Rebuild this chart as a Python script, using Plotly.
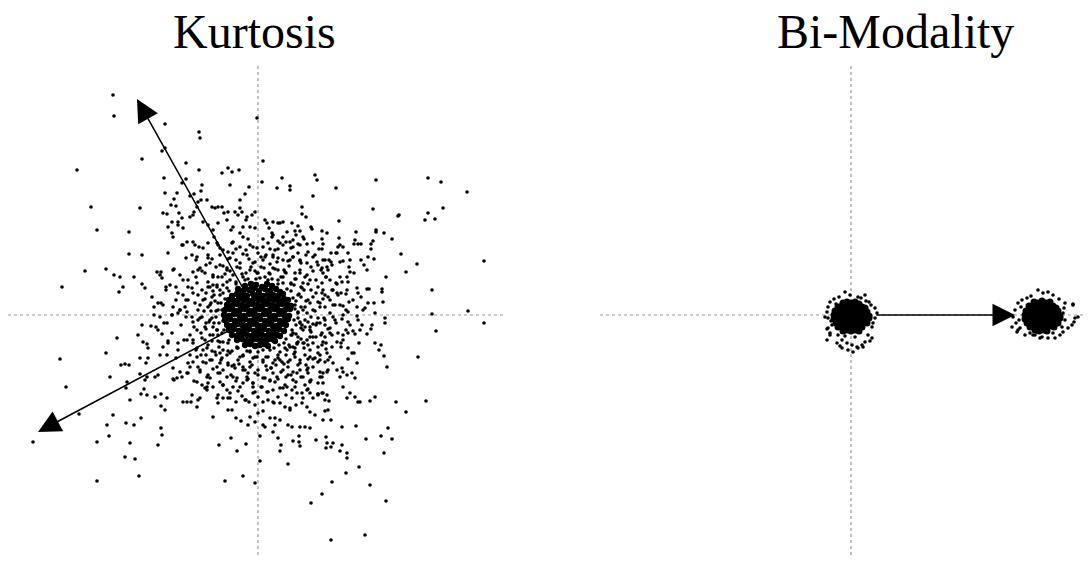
import plotly.graph_objects as go

# ---------------- data (units: offsets from each panel's origin) ----------------
panel_titles = ["Kurtosis", "Bi-Modality"]

# dense centre of the kurtosis cloud
kurt_core = [
    (-13,29),(-7,31),(-2,30),(4,28),(9,31),(14,29),
    (-20,26),(-15,24),(-9,25),(-4,27),(1,24),(7,26),(12,24),(18,26),(22,23),
    (-26,19),(-21,21),(-16,20),(-11,19),(-5,21),(0,20),(5,19),(10,21),(15,20),(20,19),(25,21),
    (-29,15),(-24,14),(-19,16),(-14,15),(-9,14),(-4,16),(1,15),(6,14),(11,16),(16,15),(21,14),(26,16),(30,15),
    (-31,10),(-26,9),(-21,11),(-16,10),(-11,9),(-6,11),(-1,10),(4,9),(9,11),(14,10),(19,9),(24,11),(29,10),(33,9),
    (-33,5),(-28,6),(-23,4),(-18,5),(-13,6),(-8,4),(-3,5),(2,6),(7,4),(12,5),(17,6),(22,4),(27,5),(32,6),
    (-34,0),(-29,-1),(-24,1),(-19,0),(-14,-1),(-9,1),(-4,0),(1,-1),(6,1),(11,0),(16,-1),(21,1),(26,0),(31,-1),
    (-33,-5),(-28,-4),(-23,-6),(-18,-5),(-13,-4),(-8,-6),(-3,-5),(2,-4),(7,-6),(12,-5),(17,-4),(22,-6),(27,-5),(30,-4),
    (-31,-10),(-26,-11),(-21,-9),(-16,-10),(-11,-11),(-6,-9),(-1,-10),(4,-11),(9,-9),(14,-10),(19,-11),(24,-9),(28,-10),
    (-29,-15),(-24,-14),(-19,-16),(-14,-15),(-9,-14),(-4,-16),(1,-15),(6,-14),(11,-16),(16,-15),(21,-14),(26,-16),
    (-26,-20),(-21,-21),(-16,-19),(-11,-20),(-6,-21),(-1,-19),(4,-20),(9,-21),(14,-19),(19,-20),(22,-21),
    (-21,-25),(-16,-24),(-11,-26),(-6,-25),(-1,-24),(4,-26),(9,-25),(14,-24),(17,-26),
    (-13,-30),(-8,-29),(-3,-31),(2,-30),(6,-29),(10,-31),
]

# ring around the centre
kurt_mid = [
    (-48,10),(-46,-3),(-44,20),(-41,30),(-36,38),(-28,44),(-18,47),(-7,48),(6,47),(17,46),(28,42),(37,36),
    (44,27),(48,14),(49,2),(47,-12),(43,-24),(37,-33),(28,-40),(17,-45),(5,-47),(-8,-47),(-20,-45),(-31,-40),
    (-39,-32),(-45,-20),(-49,-7),
    (-36,5),(-35,-6),(-33,16),(-29,24),(-22,31),(-13,35),(-2,36),(10,35),(20,31),(29,26),(35,17),(37,6),
    (36,-5),(34,-15),(28,-24),(21,-30),(12,-35),(0,-37),(-11,-36),(-21,-32),(-29,-25),(-34,-15),
    (-53,16),(-52,-14),(-50,28),(-45,40),(-35,49),(-22,55),(-9,56),(5,55),(19,53),(31,49),(42,42),(50,31),
    (55,18),(57,4),(55,-9),(52,-22),(46,-33),(37,-42),(26,-49),(13,-53),(0,-55),(-13,-55),(-26,-51),
    (-37,-45),(-46,-36),(-53,-25),(-56,-2),
    (-42,4),(-41,-15),(-38,25),(-31,33),(-16,41),(-3,44),(11,42),(23,38),(33,31),(41,21),(43,8),(42,-7),
    (38,-19),(31,-30),(22,-37),(10,-42),(-3,-42),(-15,-41),(-26,-36),(-35,-27),(-40,-20),
    (-60,45),(-70,35),(-75,20),(-78,5),(-77,-10),(-74,-25),(-68,-40),(-60,-52),(-48,-63),(-35,-70),
    (-20,-76),(-5,-78),(10,-77),(25,-73),(38,-67),(50,-58),(60,-47),(68,-34),(74,-20),(77,-5),(77,10),
    (74,25),(68,38),(60,50),(48,60),(35,68),(20,74),(5,76),(-10,76),(-25,73),(-38,67),(-50,57),
    (-85,45),(-92,28),(-95,10),(-94,-8),(-90,-26),(-82,-43),(-70,-58),(-56,-70),(-40,-80),(-22,-87),
    (-3,-90),(16,-88),(34,-83),(50,-74),(64,-62),(75,-48),(83,-32),(88,-15),(90,3),(88,21),(82,38),
    (73,53),(61,66),(46,76),(29,83),(11,87),(-8,88),(-27,85),(-44,78),(-59,68),(-72,57),
    (-66,60),(-82,15),(-86,-18),(-64,-66),(-30,-83),(-12,-85),(20,-82),(44,-78),(70,-55),(85,-25),
    (83,22),(70,45),(55,72),(38,80),(-18,82),(-50,72),(-80,-35),(-100,-15),(-104,8),(-98,40),(-76,70),
    (-45,85),(-12,95),(22,92),(54,86),(80,68),(96,42),(103,18),(104,-10),(96,-38),(82,-62),(60,-80),
    (32,-93),(0,-98),(-30,-95),(-60,-85),(-84,-65),(-98,-40),
    (-45,30),(-52,22),(-58,10),(-60,-5),(-57,-18),(-50,-30),(-42,-40),(-30,-48),(-15,-55),(0,-60),(15,-58),
    (30,-52),(42,-45),(52,-35),(58,-22),(62,-8),(62,8),(58,22),(52,35),(42,45),(30,54),(15,60),(0,62),
    (-15,61),(-30,56),(-42,48),
    (-40,38),(-48,28),(-54,4),(-52,-8),(-46,-26),(-36,-43),(-24,-50),(-8,-52),(8,-51),(24,-47),(36,-39),
    (46,-28),(52,-15),(53,-2),(52,12),(46,25),(38,36),(26,45),(12,51),(-3,53),(-18,52),(-31,47),
    (-70,15),(-72,-2),(-68,-20),(-62,-35),(-52,-48),(-38,-58),(-22,-66),(-5,-68),(12,-66),(28,-62),
    (42,-55),(55,-44),(64,-30),(70,-14),(72,2),(70,18),(64,32),(55,44),(42,54),(28,62),(12,66),(-5,68),
    (-22,66),(-38,60),(-52,50),(-62,38),
    (-66,27),(-73,8),(-64,-12),(-57,-40),(-45,-54),(-27,-60),(-10,-64),(5,-63),(20,-64),(35,-57),(48,-50),
    (60,-38),(67,-22),(66,-3),(65,16),(60,28),(49,40),(35,58),(20,66),(3,58),(-12,65),(-30,63),(-46,56),
    (-56,44),
    (-82,28),(-86,0),(-80,-28),(-70,-48),(-50,-68),(-28,-78),(0,-82),(28,-80),(52,-66),(70,-45),(80,-18),
    (82,10),(78,32),(65,55),(42,70),(15,80),(-15,78),(-40,70),(-62,55),(-78,40),
    (-44,-8),(-47,12),(-38,-38),(-19,-49),(18,-50),(39,-29),(47,-5),(45,32),(20,45),(-8,45),(-33,41),
    (-52,-40),(50,-44),(30,-60),(-10,-58),(-60,20),(62,-40),(-28,57),(8,60),(58,-10),
]

# the rest of the kurtosis cloud
kurt_outer = [
    # upper left
    (-145,220),(-144,199),(-93,191),(-59,183),(-58,177),(-1,197),(-96,164),(-93,167),(-116,156),
    (-181,145),(-72,152),(-94,137),(-59,145),(-30,147),(-26,143),(-19,145),(-36,142),(-28,130),(-9,128),
    (-167,108),(-118,107),(-161,85),(-129,83),(-129,61),(-116,60),(-173,44),(-152,46),(-196,28),
    (-144,40),(-138,38),(-124,38),(-135,28),(-139,23),(-116,31),(-113,27),(-106,18),(-100,12),(-97,12),
    (-97,43),(-101,43),(-96,37),(-90,62),(-84,46),(-95,102),(-91,101),(-84,116),(-81,122),(-93,122),
    (-87,110),(-82,109),(-76,132),(-72,136),(-56,130),(-57,124),(-68,119),(-64,121),(-60,113),(-57,115),
    (-51,115),(-61,108),(-64,103),(-79,102),(-76,97),(-80,93),(-80,90),(-86,93),(-90,88),(-86,82),(-85,78),
    (-75,87),(-68,98),(-65,100),(-46,108),(-43,107),(-40,108),(-36,108),(-34,102),(-30,103),(-23,103),
    (-20,100),(-16,103),(-18,107),(-11,98),(-6,100),(-3,103),(-18,115),(-13,121),(-55,93),(-50,90),
    (-40,92),(-31,95),(-25,88),(-15,88),(-3,87),(-65,73),(-71,73),(-75,70),
    (-88,30),(-80,22),(-75,35),(-72,15),(-85,8),(-78,5),(-70,28),(-92,25),
    # upper right
    (5,154),(4,133),(24,137),(19,127),(32,129),(32,125),(57,140),(59,135),(118,135),(78,127),(55,119),
    (170,137),(183,133),(209,123),(115,106),(185,107),(170,102),(140,99),(141,100),(167,95),(177,96),
    (44,108),(44,101),(48,98),(81,94),(118,85),(118,83),(126,82),(134,76),(98,83),(69,82),(64,84),
    (53,88),(40,89),(42,84),(37,84),(34,92),(25,93),(20,92),(15,93),(9,92),(7,95),(14,82),(14,78),
    (25,78),(22,72),(35,75),(32,73),(45,78),(40,71),(49,71),(64,76),(65,71),(64,66),(81,77),(85,68),
    (82,70),(97,75),(100,71),(103,71),(96,71),(113,71),(113,66),(115,74),(143,61),(159,51),(148,43),
    (128,38),(226,54),(174,25),(124,26),(124,23),(116,12),(125,13),(109,26),(111,26),(99,27),(100,22),
    (103,55),(116,56),(110,58),(106,50),(109,45),(90,62),(92,55),(85,54),(79,62),(82,53),(91,48),
    (78,62),(73,62),(71,55),(74,50),(69,48),(64,47),(65,42),(92,43),(89,38),(90,33),(84,33),(79,31),
    (72,35),(89,25),(79,22),(91,13),(85,9),(99,8),(107,7),(75,25),(72,15),(67,20),(64,22),(62,12),
    (55,58),(59,53),(49,52),(42,55),(35,58),(25,55),(15,58),
    (75,10),(80,20),(88,5),(95,15),(78,-8),(85,-20),(92,-10),(105,5),(110,12),(100,-5),
    # lower left
    (-104,0),(-141,-23),(-152,-38),(-198,-44),(-192,-72),(-148,-62),(-137,-50),(-133,-49),(-129,-50),
    (-131,-67),(-132,-73),(-128,-85),(-179,-99),(-145,-100),(-151,-110),(-149,-121),(-132,-108),
    (-124,-110),(-117,-103),(-225,-127),(-161,-127),(-128,-128),(-133,-142),(-123,-144),(-161,-166),
    (-119,-161),(-97,-113),(-96,-120),(-100,-130),(-97,-91),(-93,-95),(-103,-82),(-97,-79),(-91,-83),
    (-114,-74),(-111,-80),(-117,-79),(-113,-65),(-111,-62),(-103,-62),(-100,-60),(-118,-59),(-112,-48),
    (-110,-43),(-118,-43),(-120,-20),(-116,-10),(-107,-11),(-102,-12),(-111,-29),(-110,-33),(-115,-27),
    (-96,-19),(-95,-32),(-90,-28),(-91,-40),(-85,-64),(-81,-63),(-76,-62),(-75,-87),(-71,-87),(-67,-87),
    (-61,-92),(-58,-83),(-66,-80),(-53,-73),(-51,-75),(-45,-102),(-39,-130),(-27,-123),(-21,-136),
    (-12,-129),(-33,-166),(-15,-161),(-3,-168),(-41,-83),(-40,-88),(-35,-83),(-28,-83),(-26,-95),
    (-22,-103),(-17,-106),(-8,-102),(-10,-110),(-3,-107),(-16,-81),(-13,-85),(-9,-87),(-3,-77),
    (-85,-53),(-78,-57),(-71,-58),(-68,-52),(-98,-2),(-91,-8),(-86,0),(-80,2),(-71,3),(-66,-2),
    (-71,-25),(-65,-28),(-61,-42),(-55,-35),(-48,-45),(-41,-52),(-35,-55),(-25,-62),(-18,-72),
    (-11,-65),(-5,-68),(-58,-55),(-51,-62),(-45,-72),(-38,-67),(-31,-75),
    # lower right
    (117,2),(174,1),(210,4),(226,-8),(178,-16),(127,-3),(127,-8),(114,-10),(113,-14),(109,-19),
    (101,-28),(117,-28),(123,-30),(121,-35),(126,-41),(129,-52),(160,-42),(99,-1),(85,0),(75,-2),
    (84,-4),(90,-7),(90,-18),(97,-19),(102,-15),(95,-16),(83,-28),(79,-27),(90,-33),(94,-38),(90,-44),
    (99,-48),(84,-53),(85,-57),(89,-60),(94,-58),(97,-63),(85,-72),(92,-78),(89,-83),(97,-82),(100,-87),
    (102,-87),(112,-86),(117,-82),(138,-87),(168,-86),(148,-97),(84,-112),(98,-111),(130,-113),
    (123,-121),(134,-124),(108,-124),(126,-138),(101,-152),(88,-158),(112,-170),(128,-186),(74,-167),
    (64,-179),(53,-188),(73,-225),(107,-220),(89,-138),(89,-143),(82,-136),(84,-130),(75,-128),
    (73,-132),(68,-133),(69,-128),(68,-122),(58,-125),(73,-105),(65,-105),(70,-95),(67,-96),(71,-86),
    (67,-85),(69,-80),(64,-78),(60,-79),(52,-113),(47,-112),(42,-112),(34,-112),(30,-110),(22,-105),
    (17,-110),(15,-117),(20,-123),(23,-130),(22,-136),(7,-112),(5,-110),(2,-121),(30,-149),(42,-131),
    (41,-127),(35,-126),(41,-121),(2,-146),(12,-103),(5,-96),(17,-103),(57,-100),(52,-97),(49,-92),
    (44,-88),(38,-90),(32,-95),(27,-92),(22,-88),(15,-87),(10,-85),(5,-87),(49,-75),(52,-78),(60,-79),
    (65,-78),(55,-83),(45,-83),(39,-78),(34,-75),(29,-72),(22,-73),(15,-75),(9,-77),(4,-72),
    (69,-38),(72,-42),(62,-45),(65,-58),(62,-62),(55,-52),(52,-42),(49,-55),(42,-48),(39,-58),(35,-65),
    (32,-45),(25,-55),(19,-62),(12,-65),(9,-55),(5,-45),(74,-32),(69,-57),(79,-55),(45,-62),(52,-67),
    (60,-68),(22,-45),(15,-48),(29,-35),(35,-32),(45,-28),(55,-28),(65,-27),(72,-18),
    (52,-12),(59,-8),(67,-5),(72,-13),(64,-18),(55,-22),(45,-15),(42,-8),(35,-18),(49,-25),(39,-28),
    # around the centre
    (-63,70),(-55,67),(-61,58),(-50,60),(-41,72),(-35,65),(-26,72),(-18,68),(-8,70),(-1,67),(-25,62),
    (-11,60),(-48,52),(-58,47),(-65,43),(-38,50),(-31,45),(-21,48),(-5,52),(-53,42),(-45,38),(-61,32),
    (-65,22),(-56,25),(-50,33),(-41,28),(-63,12),(-55,15),(-46,18),(-60,5),(-50,8),(-40,12),(-35,22),
    (-28,35),(-15,38),(-1,42),
    (5,68),(10,72),(17,65),(25,70),(28,73),(33,67),(40,62),(50,63),(57,60),(67,55),(7,58),(20,57),
    (32,55),(43,52),(53,48),(63,45),(3,48),(15,47),(27,43),(37,42),(47,38),(58,35),(68,38),(7,38),
    (20,35),(33,32),(43,28),(53,25),(65,25),(40,20),(50,15),(60,13),(67,8),(47,8),(55,5),(37,10),(40,3),
    (-65,-7),(-58,-3),(-61,-15),(-53,-12),(-48,-5),(-65,-25),(-56,-23),(-48,-20),(-41,-15),(-38,-27),
    (-61,-33),(-51,-33),(-43,-37),(-35,-35),(-28,-38),(-21,-33),(-15,-40),(-8,-37),(-1,-42),(-65,-47),
    (-55,-47),(-46,-45),(-38,-48),(-30,-50),(-23,-53),(-15,-52),(-6,-50),(-58,-57),(-50,-60),(-40,-58),
    (-31,-62),(-21,-63),(-11,-62),(-3,-58),(-61,-67),(-51,-72),(-35,-70),(-25,-72),(-15,-68),(-5,-72),
    (40,-3),(50,-7),(60,-3),(67,-10),(43,-13),(53,-17),(63,-20),(33,-20),(40,-27),(50,-30),(60,-32),
    (68,-28),(27,-33),(37,-37),(47,-40),(57,-43),(67,-47),(20,-43),(30,-47),(40,-50),(50,-53),(62,-57),
    (13,-53),(23,-57),(33,-60),(43,-62),(53,-65),(7,-63),(17,-67),(27,-70),(37,-72),(47,-70),(65,-68),
    (3,-72),
    (-38,20),(-40,5),(-39,-8),(-36,-18),(-30,-28),(-20,-33),(-8,-36),(5,-35),(16,-33),(26,-28),(34,-20),
    (38,-10),(40,2),(38,14),(33,24),(25,32),(14,36),(2,37),(-10,36),(-22,33),(-31,27),(-37,12),(-42,-2),
    (-43,14),(-35,30),(-25,40),(-12,42),(0,42),(12,41),(25,38),(36,30),(43,18),(45,5),(44,-10),(40,-22),
    (32,-32),(20,-40),(8,-42),(-5,-43),(-18,-42),(-30,-36),(-40,-26),(-45,-12),(-47,4),(-45,24),
]

# bi-modality: two tight clusters
bimod_left_core = [
    (-8,12),(-4,13),(0,12),(4,13),(8,11),
    (-13,8),(-9,9),(-5,8),(-1,9),(3,8),(7,9),(11,8),(14,7),
    (-16,4),(-12,5),(-8,4),(-4,5),(0,4),(4,5),(8,4),(12,5),(16,3),
    (-17,0),(-13,1),(-9,0),(-5,1),(-1,0),(3,1),(7,0),(11,1),(15,0),(18,-1),
    (-17,-4),(-13,-3),(-9,-4),(-5,-3),(-1,-4),(3,-3),(7,-4),(11,-3),(15,-4),(18,-3),
    (-15,-8),(-11,-7),(-7,-8),(-3,-7),(1,-8),(5,-7),(9,-8),(13,-7),(16,-8),
    (-13,-12),(-9,-11),(-5,-12),(-1,-11),(3,-12),(7,-11),(11,-12),
    (-8,-16),(-4,-15),(0,-16),(4,-15),(8,-16),
]
bimod_left_outer = [
    (-6,23),(-1,20),(7,18),(14,20),(-21,13),(-23,8),(-24,3),(24,7),(26,2),(24,-3),(22,-8),(-19,-10),
    (-23,-13),(-21,-20),(-24,-25),(-13,-20),(-9,-25),(-4,-28),(1,-30),(6,-32),(11,-30),(-9,-33),
    (-3,-35),(2,-37),(7,-33),(17,-20),(21,-23),(14,-27),(-23,-3),(-26,-2),(-11,-31),(12,-32),(19,-26),
    (-14,-28),(-24,-14),(-21,-18),(-17,16),(-12,18),(10,17),(18,13),(20,10),(21,-12),(-20,-6),(4,-22),
    (-6,-21),(-15,11),(15,14),
]
bimod_right_core = [
    (183,13),(187,12),(191,14),(195,12),(199,13),
    (178,9),(182,8),(186,9),(190,8),(194,9),(198,8),(202,9),(205,7),
    (175,4),(179,5),(183,4),(187,5),(191,4),(195,5),(199,4),(203,5),(207,4),
    (174,0),(178,1),(182,0),(186,1),(190,0),(194,1),(198,0),(202,1),(206,0),(209,-1),
    (174,-4),(178,-3),(182,-4),(186,-3),(190,-4),(194,-3),(198,-4),(202,-3),(206,-4),(209,-3),
    (176,-8),(180,-7),(184,-8),(188,-7),(192,-8),(196,-7),(200,-8),(204,-7),(207,-8),
    (179,-12),(183,-11),(187,-12),(191,-11),(195,-12),(199,-11),(203,-12),
    (184,-15),(188,-16),(192,-15),(196,-16),
]
bimod_right_outer = [
    (187,25),(192,22),(197,23),(202,20),(171,15),(167,12),(164,5),(162,-2),(161,-12),(222,10),(224,-3),
    (221,-10),(217,-13),(212,-17),(209,-20),(204,-23),(197,-23),(174,-20),(179,-18),(184,-20),(191,-22),
    (169,-13),(166,-17),(227,-2),(222,11),(223,-7),(214,-5),(212,2),(167,-15),(165,-8),(182,-20),
    (189,-23),(202,-18),(211,-12),(176,17),(180,19),(208,16),(214,12),(170,8),(168,-5),(213,7),
]

# arrows: (tail, tip)
kurt_arrows = [((0, 0), (-121, 216)), ((0, 0), (-220, -117))]
bimod_arrows = [((24, 0), (164, 0))]

# ---------------- figure ----------------
W, H = 1090, 563
fig = go.Figure()

def add_pts(pts, xa, ya, size):
    fig.add_trace(go.Scatter(
        x=[p[0] for p in pts], y=[p[1] for p in pts], mode="markers",
        xaxis=xa, yaxis=ya, hoverinfo="skip", showlegend=False,
        marker=dict(size=size, color="black", line=dict(width=0)),
    ))

add_pts(kurt_outer, "x", "y", 3.6)
add_pts(kurt_mid, "x", "y", 3.6)
add_pts(kurt_core, "x", "y", 6.3)
add_pts(bimod_left_outer, "x2", "y2", 3.6)
add_pts(bimod_left_core, "x2", "y2", 7)
add_pts(bimod_right_outer, "x2", "y2", 3.6)
add_pts(bimod_right_core, "x2", "y2", 7)

dot = dict(color="#9a9a9a", width=1.2, dash="dot")
shapes = [
    dict(type="line", xref="x", yref="y", x0=-250, x1=247, y0=0, y1=0, line=dot, layer="below"),
    dict(type="line", xref="x", yref="y", x0=0, x1=0, y0=-240, y1=250, line=dot, layer="below"),
    dict(type="line", xref="x2", yref="y2", x0=-251, x1=234, y0=0, y1=0, line=dot, layer="below"),
    dict(type="line", xref="x2", yref="y2", x0=0, x1=0, y0=-240, y1=250, line=dot, layer="below"),
]

annotations = []
for (tail, tip) in kurt_arrows:
    annotations.append(dict(x=tip[0], y=tip[1], ax=tail[0], ay=tail[1], xref="x", yref="y",
                            axref="x", ayref="y", text="", showarrow=True, arrowhead=2,
                            arrowsize=3.0, arrowwidth=1.5, arrowcolor="black", standoff=0))
for (tail, tip) in bimod_arrows:
    annotations.append(dict(x=tip[0], y=tip[1], ax=tail[0], ay=tail[1], xref="x2", yref="y2",
                            axref="x2", ayref="y2", text="", showarrow=True, arrowhead=2,
                            arrowsize=3.0, arrowwidth=1.5, arrowcolor="black", standoff=0))
for t, xp in zip(panel_titles, [254 / W, 895 / W]):
    annotations.append(dict(text=t, x=xp, y=1 - 4 / H, xref="paper", yref="paper",
                            xanchor="center", yanchor="top", showarrow=False, borderpad=0,
                            font=dict(family="Liberation Serif", size=48, color="black")))

ax_common = dict(visible=False, showgrid=False, zeroline=False, fixedrange=True)
fig.update_layout(
    width=W, height=H, autosize=False,
    margin=dict(l=0, r=0, t=0, b=0),
    paper_bgcolor="white", plot_bgcolor="white",
    xaxis=dict(domain=[0, 0.5], range=[-258, 287], **ax_common),
    yaxis=dict(domain=[0, 1], range=[-248, 315], **ax_common),
    xaxis2=dict(domain=[0.5, 1], range=[-306, 239], **ax_common),
    yaxis2=dict(domain=[0, 1], range=[-248, 315], anchor="x2", **ax_common),
    shapes=shapes, annotations=annotations,
)

# remove the default 8px page margin so the figure fills the window exactly
fig.write_html("out.html", config={"displayModeBar": False, "staticPlot": True},
               post_script="document.body.style.margin='0';document.body.style.overflow='hidden';")
